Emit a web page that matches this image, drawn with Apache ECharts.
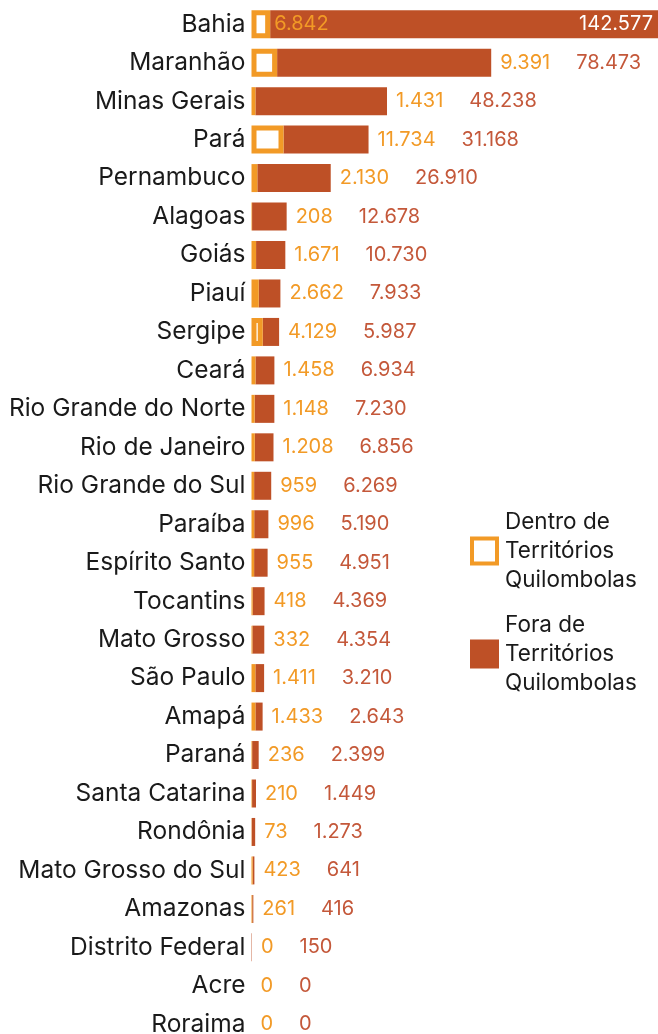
<!DOCTYPE html>
<html>
<head>
<meta charset="utf-8">
<script src="https://cdn.jsdelivr.net/npm/echarts@6/dist/echarts.min.js"></script>
<style>
	html, body { margin: 0; padding: 0; background: #fff; }
	#chart { width: 658px; height: 1034px; }
</style>
</head>
<body>
<div id="chart"></div>
<script>
// data
const states = ['Bahia', 'Maranhão', 'Minas Gerais', 'Pará', 'Pernambuco', 'Alagoas', 'Goiás', 'Piauí', 'Sergipe', 'Ceará',
	'Rio Grande do Norte', 'Rio de Janeiro', 'Rio Grande do Sul', 'Paraíba', 'Espírito Santo', 'Tocantins', 'Mato Grosso',
	'São Paulo', 'Amapá', 'Paraná', 'Santa Catarina', 'Rondônia', 'Mato Grosso do Sul', 'Amazonas', 'Distrito Federal',
	'Acre', 'Roraima'];
const dentro = [6842, 9391, 1431, 11734, 2130, 208, 1671, 2662, 4129, 1458, 1148, 1208, 959, 996, 955, 418, 332,
	1411, 1433, 236, 210, 73, 423, 261, 0, 0, 0];
const fora = [142577, 78473, 48238, 31168, 26910, 12678, 10730, 7933, 5987, 6934, 7230, 6856, 6269, 5190, 4951, 4369, 4354,
	3210, 2643, 2399, 1449, 1273, 641, 416, 150, 0, 0];

const ORANGE = '#F29A26';
const RED = '#BE5026';
const FONT = 'Inter';

// 142577 -> "142.577"
const fmt = v => String(v).replace(/\B(?=(\d{3})+(?!\d))/g, '.');

const chart = echarts.init(document.getElementById('chart'), null, { renderer: 'canvas' });

// small bars are too narrow to show the hollow box, so they are just filled
const outlined = { color: '#fff', borderColor: ORANGE, borderWidth: 5 };
const filled = { color: ORANGE, borderWidth: 0 };

const option = {
	animation: false,
	textStyle: { fontFamily: FONT },
	grid: {
		left: 251.5,
		right: 0,
		top: 5,
		height: 1038.5,
		outerBoundsMode: 'none'
	},
	xAxis: {
		type: 'value',
		min: 0,
		max: 149000,
		show: false
	},
	yAxis: {
		type: 'category',
		data: states,
		inverse: true,
		axisLine: { show: false },
		axisTick: { show: false },
		axisLabel: {
			margin: 6,
			fontSize: 24.5,
			fontFamily: FONT,
			color: '#1a1a1a'
		}
	},
	legend: {
		orient: 'vertical',
		left: 465,
		top: 502.5,
		itemGap: 16,
		itemWidth: 25,
		itemHeight: 25,
		selectedMode: false,
		formatter: name => name.replace(' de ', ' de\n').replace('Territórios ', 'Territórios\n'),
		textStyle: {
			fontFamily: FONT,
			fontSize: 22.5,
			lineHeight: 29,
			color: '#1a1a1a',
			padding: [0, 0, 0, 3]
		},
		data: [
			{ name: 'Dentro de Territórios Quilombolas', icon: 'rect', itemStyle: { color: '#fff', borderColor: ORANGE, borderWidth: 4 } },
			{ name: 'Fora de Territórios Quilombolas', icon: 'rect', itemStyle: { color: RED, borderColor: RED, borderWidth: 4 } }
		]
	},
	series: [
		{
			name: 'Dentro de Territórios Quilombolas',
			type: 'bar',
			stack: 'total',
			barWidth: 28,
			z: 3,
			data: dentro.map((v, i) => {
				const item = { value: v, itemStyle: v >= 3000 ? outlined : filled };
				if (i === 0) {
					item.label = {
						show: true,
						position: 'right',
						distance: 4,
						color: ORANGE,
						fontSize: 20,
						fontFamily: FONT,
						formatter: p => fmt(p.value)
					};
				}
				return item;
			})
		},
		{
			name: 'Fora de Territórios Quilombolas',
			type: 'bar',
			stack: 'total',
			barWidth: 28,
			z: 2,
			itemStyle: { color: RED },
			label: {
				show: true,
				position: 'right',
				distance: 9,
				fontSize: 20,
				fontFamily: FONT,
				formatter: p => p.dataIndex === 0
					? '{w|' + fmt(fora[0]) + '}'
					: '{d|' + fmt(dentro[p.dataIndex]) + '}{f|' + fmt(fora[p.dataIndex]) + '}',
				rich: {
					d: { color: ORANGE, fontSize: 20, fontFamily: FONT, padding: [0, 26, 0, 0] },
					f: { color: '#C4583A', fontSize: 20, fontFamily: FONT },
					w: { color: '#fff', fontSize: 20, fontFamily: FONT }
				}
			},
			data: fora.map((v, i) => i === 0 ? { value: v, label: { position: 'insideRight', distance: 5 } } : v)
		}
	]
};

chart.setOption(option);
</script>
</body>
</html>
